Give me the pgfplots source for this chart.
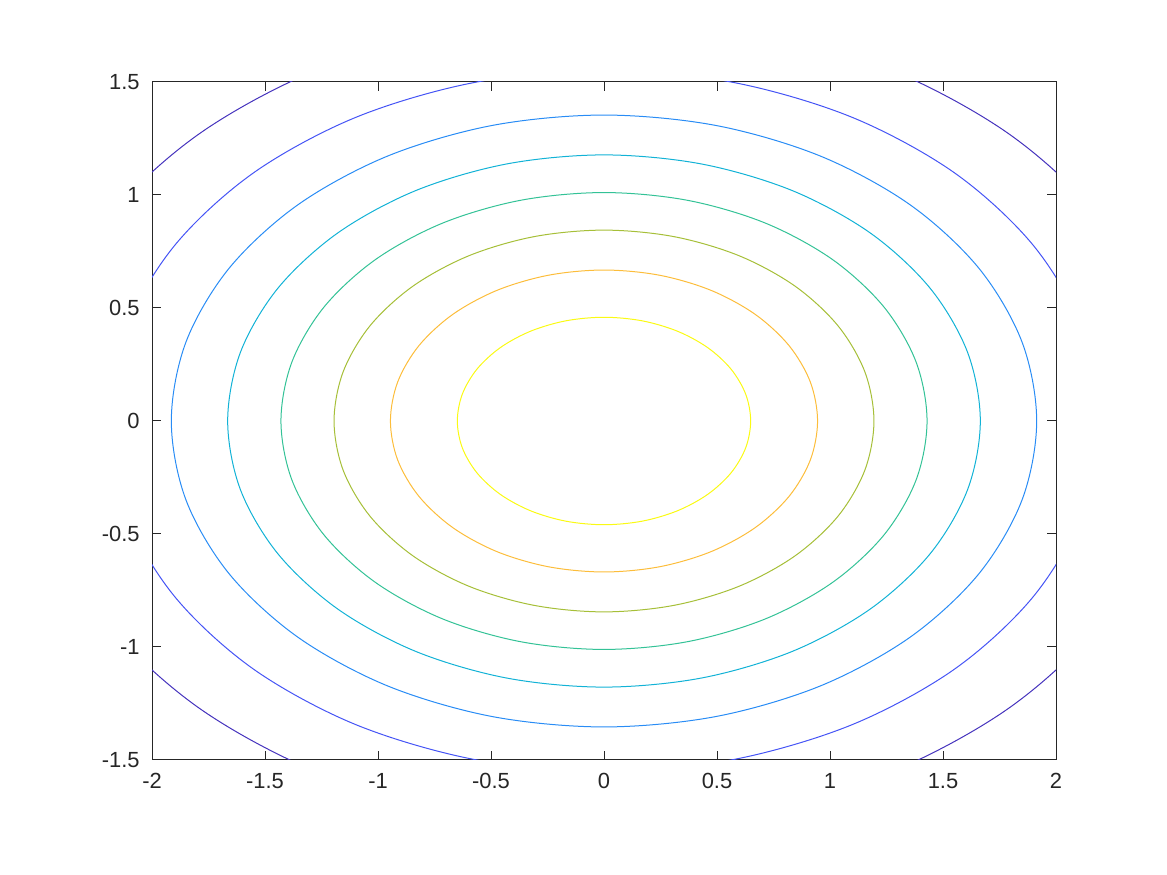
\documentclass[border=0pt]{standalone}
\usepackage{fontspec}
\setmainfont{Liberation Sans}
\usepackage{pgfplots}
\pgfplotsset{compat=1.18}
\definecolor{axgray}{rgb}{0.15,0.15,0.15}
\definecolor{cA}{rgb}{0.27,0.20,0.74}
\definecolor{cB}{rgb}{0.27,0.33,0.96}
\definecolor{cC}{rgb}{0.16,0.55,0.96}
\definecolor{cD}{rgb}{0.07,0.70,0.84}
\definecolor{cE}{rgb}{0.20,0.76,0.59}
\definecolor{cF}{rgb}{0.65,0.75,0.22}
\definecolor{cG}{rgb}{0.99,0.74,0.23}
\definecolor{cH}{rgb}{0.98,0.98,0.08}
\pgfplotsset{contourline/.style={line width=0.5bp, smooth cycle, tension=0.55, mark=none}}
\begin{document}
\begin{tikzpicture}
\useasboundingbox (-76bp,-57.5bp) rectangle (507.5bp,380bp);
\begin{axis}[
  at={(0,0)}, anchor=south west,
  scale only axis, width=452bp, height=339bp,
  xmin=-2, xmax=2, ymin=-1.5, ymax=1.5,
  xtick={-2,-1.5,-1,-0.5,0,0.5,1,1.5,2},
  xticklabels={-2,-1.5,-1,-0.5,0,0.5,1,1.5,2},
  ytick={-1.5,-1,-0.5,0,0.5,1,1.5},
  yticklabels={-1.5,-1,-0.5,0,0.5,1,1.5},
  tick align=inside,
  major tick length=4.5bp,
  axis line style={draw=axgray, line width=0.5bp},
  every tick/.style={draw=axgray, line width=0.5bp},
  tick label style={font=\fontsize{11}{13}\selectfont, text=axgray},
  yticklabel style={inner sep=0pt, xshift=-6bp},
  xticklabel style={inner sep=0pt, yshift=-6.5bp},
  /pgf/number format/assume math mode=true,
]
% level 0.9
\addplot[cH, contourline] coordinates {(0.649,0)(0.6269,0.1188)(0.5621,0.2295)(0.4589,0.3246)(0.3245,0.3975)(0.1680,0.4434)(0,0.459)(-0.1680,0.4434)(-0.3245,0.3975)(-0.4589,0.3246)(-0.5621,0.2295)(-0.6269,0.1188)(-0.649,0)(-0.6269,-0.1188)(-0.5621,-0.2295)(-0.4589,-0.3246)(-0.3245,-0.3975)(-0.1680,-0.4434)(0,-0.459)(0.1680,-0.4434)(0.3245,-0.3975)(0.4589,-0.3246)(0.5621,-0.2295)(0.6269,-0.1188)};
% level 0.8
\addplot[cG, contourline] coordinates {(0.945,0)(0.9128,0.1729)(0.8184,0.334)(0.6682,0.4724)(0.4725,0.5785)(0.2446,0.6452)(0,0.668)(-0.2446,0.6452)(-0.4725,0.5785)(-0.6682,0.4724)(-0.8184,0.334)(-0.9128,0.1729)(-0.945,0)(-0.9128,-0.1729)(-0.8184,-0.334)(-0.6682,-0.4724)(-0.4725,-0.5785)(-0.2446,-0.6452)(0,-0.668)(0.2446,-0.6452)(0.4725,-0.5785)(0.6682,-0.4724)(0.8184,-0.334)(0.9128,-0.1729)};
% level 0.7
\addplot[cF, contourline] coordinates {(1.1945,0)(1.1538,0.2186)(1.0345,0.4223)(0.8446,0.5972)(0.5973,0.7314)(0.3092,0.8158)(0,0.8446)(-0.3092,0.8158)(-0.5973,0.7314)(-0.8446,0.5972)(-1.0345,0.4223)(-1.1538,0.2186)(-1.1945,0)(-1.1538,-0.2186)(-1.0345,-0.4223)(-0.8446,-0.5972)(-0.5973,-0.7314)(-0.3092,-0.8158)(0,-0.8446)(0.3092,-0.8158)(0.5973,-0.7314)(0.8446,-0.5972)(1.0345,-0.4223)(1.1538,-0.2186)};
% level 0.6
\addplot[cE, contourline] coordinates {(1.4294,0)(1.3807,0.2616)(1.2379,0.5054)(1.0107,0.7147)(0.7147,0.8754)(0.3700,0.9764)(0,1.0108)(-0.3700,0.9764)(-0.7147,0.8754)(-1.0107,0.7147)(-1.2379,0.5054)(-1.3807,0.2616)(-1.4294,0)(-1.3807,-0.2616)(-1.2379,-0.5054)(-1.0107,-0.7147)(-0.7147,-0.8754)(-0.3700,-0.9764)(0,-1.0108)(0.3700,-0.9764)(0.7147,-0.8754)(1.0107,-0.7147)(1.2379,-0.5054)(1.3807,-0.2616)};
% level 0.5
\addplot[cD, contourline] coordinates {(1.6651,0)(1.6084,0.3047)(1.4420,0.5887)(1.1774,0.8325)(0.8326,1.0197)(0.4310,1.1373)(0,1.1774)(-0.4310,1.1373)(-0.8326,1.0197)(-1.1774,0.8325)(-1.4420,0.5887)(-1.6084,0.3047)(-1.6651,0)(-1.6084,-0.3047)(-1.4420,-0.5887)(-1.1774,-0.8325)(-0.8326,-1.0197)(-0.4310,-1.1373)(0,-1.1774)(0.4310,-1.1373)(0.8326,-1.0197)(1.1774,-0.8325)(1.4420,-0.5887)(1.6084,-0.3047)};
% level 0.4
\addplot[cC, contourline] coordinates {(1.9145,0)(1.8493,0.3504)(1.6580,0.6769)(1.3537,0.9572)(0.9573,1.1723)(0.4955,1.3076)(0,1.3537)(-0.4955,1.3076)(-0.9573,1.1723)(-1.3537,0.9572)(-1.6580,0.6769)(-1.8493,0.3504)(-1.9145,0)(-1.8493,-0.3504)(-1.6580,-0.6769)(-1.3537,-0.9572)(-0.9573,-1.1723)(-0.4955,-1.3076)(0,-1.3537)(0.4955,-1.3076)(0.9573,-1.1723)(1.3537,-0.9572)(1.6580,-0.6769)(1.8493,-0.3504)};
% level 0.3
\addplot[cB, contourline] coordinates {(2.1945,0)(2.1197,0.4016)(1.9005,0.7759)(1.5518,1.0973)(1.0973,1.3439)(0.5680,1.4989)(0,1.5518)(-0.5680,1.4989)(-1.0973,1.3439)(-1.5518,1.0973)(-1.9005,0.7759)(-2.1197,0.4016)(-2.1945,0)(-2.1197,-0.4016)(-1.9005,-0.7759)(-1.5518,-1.0973)(-1.0973,-1.3439)(-0.5680,-1.4989)(0,-1.5518)(0.5680,-1.4989)(1.0973,-1.3439)(1.5518,-1.0973)(1.9005,-0.7759)(2.1197,-0.4016)};
% level 0.2
\addplot[cA, contourline] coordinates {(2.5373,0)(2.4508,0.4644)(2.1974,0.8971)(1.7941,1.2686)(1.2687,1.5537)(0.6567,1.7330)(0,1.7941)(-0.6567,1.7330)(-1.2687,1.5537)(-1.7941,1.2686)(-2.1974,0.8971)(-2.4508,0.4644)(-2.5373,0)(-2.4508,-0.4644)(-2.1974,-0.8971)(-1.7941,-1.2686)(-1.2687,-1.5537)(-0.6567,-1.7330)(0,-1.7941)(0.6567,-1.7330)(1.2687,-1.5537)(1.7941,-1.2686)(2.1974,-0.8971)(2.4508,-0.4644)};
\end{axis}
\end{tikzpicture}
\end{document}
